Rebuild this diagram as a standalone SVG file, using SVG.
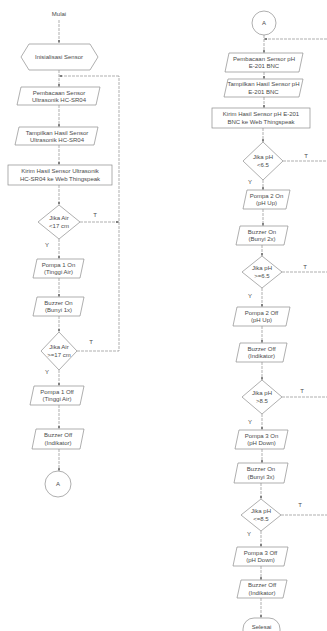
<svg xmlns="http://www.w3.org/2000/svg" width="327" height="631" viewBox="0 0 327 631">
<style>
.s{fill:#fff;stroke:#8c8c8c;stroke-width:0.7}
.c{fill:none;stroke:#8c8c8c;stroke-width:0.7;stroke-dasharray:3 1}
text{font-family:"Liberation Sans",Arial,sans-serif;font-size:6px;fill:#4a4a4a;text-anchor:middle}
.l{font-size:6px}
</style>
<defs>
<marker id="a" viewBox="0 0 6 6" refX="6" refY="3" markerWidth="4" markerHeight="4" orient="auto"><path d="M0,0L6,3L0,6z" fill="#666"/></marker>
</defs>
<rect width="327" height="631" fill="#fff"/>
<g id="connectors">
<path class="c" d="M59,20V43" marker-end="url(#a)"/>
<path class="c" d="M59,70V87" marker-end="url(#a)"/>
<path class="c" d="M119,76H59" marker-end="url(#a)"/>
<path class="c" d="M59,105V127" marker-end="url(#a)"/>
<path class="c" d="M59,145V165" marker-end="url(#a)"/>
<path class="c" d="M59,185V205" marker-end="url(#a)"/>
<path class="c" d="M80,222H119" marker-end="url(#a)"/>
<path class="c" d="M59,239V259" marker-end="url(#a)"/>
<path class="c" d="M59,278V297" marker-end="url(#a)"/>
<path class="c" d="M59,316V332" marker-end="url(#a)"/>
<path class="c" d="M77,351H119V76"/>
<path class="c" d="M59,370V386" marker-end="url(#a)"/>
<path class="c" d="M59,405V429" marker-end="url(#a)"/>
<path class="c" d="M59,449V471" marker-end="url(#a)"/>
<path class="c" d="M264,35V53" marker-end="url(#a)"/>
<path class="c" d="M327,39H264" marker-end="url(#a)"/>
<path class="c" d="M264,72V79" marker-end="url(#a)"/>
<path class="c" d="M264,97V108" marker-end="url(#a)"/>
<path class="c" d="M263,128V142" marker-end="url(#a)"/>
<path class="c" d="M283,161H327"/>
<path class="c" d="M263,180V190" marker-end="url(#a)"/>
<path class="c" d="M263,209V226" marker-end="url(#a)"/>
<path class="c" d="M262,245V256" marker-end="url(#a)"/>
<path class="c" d="M282,272H327"/>
<path class="c" d="M262,288V307" marker-end="url(#a)"/>
<path class="c" d="M262,326V343" marker-end="url(#a)"/>
<path class="c" d="M262,362V380" marker-end="url(#a)"/>
<path class="c" d="M282,397H327"/>
<path class="c" d="M262,414V430" marker-end="url(#a)"/>
<path class="c" d="M262,449V463" marker-end="url(#a)"/>
<path class="c" d="M261,483V499" marker-end="url(#a)"/>
<path class="c" d="M281,515H327"/>
<path class="c" d="M261,531V547" marker-end="url(#a)"/>
<path class="c" d="M261,566V580" marker-end="url(#a)"/>
<path class="c" d="M261,598V618" marker-end="url(#a)"/>
<text x="95" y="217">T</text>
<text x="47" y="247">Y</text>
<text x="91" y="344">T</text>
<text x="47" y="374">Y</text>
<text x="306" y="158">T</text>
<text x="250" y="184">Y</text>
<text x="305" y="269">T</text>
<text x="250" y="298">Y</text>
<text x="302" y="393">T</text>
<text x="250" y="424">Y</text>
<text x="300" y="507">T</text>
<text x="249" y="536">Y</text>
</g>
<g id="mulai"><text x="59" y="16">Mulai</text></g>
<g id="inisialisasi"><polygon class="s" points="29,44 90,44 98,57 90,70 29,70 21,57"/><text x="59" y="59">Inisialisasi Sensor</text></g>
<g id="baca-us"><polygon class="s" points="21,87 100,87 96,105 17,105"/><text x="59" y="94.5">Pembacaan Sensor</text><text x="59" y="102">Ultrasonik HC-SR04</text></g>
<g id="tampil-us"><polygon class="s" points="19,127 98,127 94,145 15,145"/><text x="57" y="134.5">Tampilkan Hasil Sensor</text><text x="57" y="142">Ultrasonik HC-SR04</text></g>
<g id="kirim-us"><rect class="s" x="8" y="165" width="104" height="20"/><text x="60" y="173">Kirim Hasil Sensor Ultrasonik</text><text x="60" y="181">HC-SR04 ke Web Thingspeak</text></g>
<g id="d1"><polygon class="s" points="59,205 80,222 59,239 38,222"/><text x="59" y="220">Jika Air</text><text x="59" y="228">&lt;17 cm</text></g>
<g id="pompa1on"><polygon class="s" points="37,259 84,259 80,278 33,278"/><text x="58.5" y="266.5">Pompa 1 On</text><text x="58.5" y="274">(Tinggi Air)</text></g>
<g id="buzzer1on"><polygon class="s" points="37,297 84,297 80,316 33,316"/><text x="58.5" y="304.5">Buzzer On</text><text x="58.5" y="312">(Bunyi 1x)</text></g>
<g id="d2"><polygon class="s" points="59,332 77,351 59,370 41,351"/><text x="59" y="349">Jika Air</text><text x="59" y="357">&gt;=17 cm</text></g>
<g id="pompa1off"><polygon class="s" points="34,386 84,386 80,405 30,405"/><text x="57" y="393.5">Pompa 1 Off</text><text x="57" y="401">(Tinggi Air)</text></g>
<g id="buzzer1off"><polygon class="s" points="36,429 84,429 80,449 32,449"/><text x="58" y="437">Buzzer Off</text><text x="58" y="445">(Indikator)</text></g>
<g id="conA1"><circle class="s" cx="58" cy="484" r="13"/><text x="58" y="486">A</text></g>
<g id="conA2"><circle class="s" cx="264" cy="23" r="12"/><text x="264" y="25">A</text></g>
<g id="baca-ph"><polygon class="s" points="229,53 303,53 299,72 225,72"/><text x="264" y="60.5">Pembacaan Sensor pH</text><text x="264" y="68">E-201 BNC</text></g>
<g id="tampil-ph"><polygon class="s" points="228,79 303,79 299,97 224,97"/><text x="263.5" y="86">Tampilkan Hasil Sensor pH</text><text x="263.5" y="93.5">E-201 BNC</text></g>
<g id="kirim-ph"><rect class="s" x="212" y="108" width="98" height="20"/><text x="261" y="116">Kirim Hasil Sensor pH E-201</text><text x="261" y="124">BNC ke Web Thingspeak</text></g>
<g id="d3"><polygon class="s" points="263,142 283,161 263,180 243,161"/><text x="263" y="159">Jika pH</text><text x="263" y="167">&lt;6.5</text></g>
<g id="pompa2on"><polygon class="s" points="247,190 290,190 286,209 243,209"/><text x="266.5" y="197.5">Pompa 2 On</text><text x="266.5" y="205">(pH Up)</text></g>
<g id="buzzer2on"><polygon class="s" points="240,226 288,226 284,245 236,245"/><text x="262" y="233.5">Buzzer On</text><text x="262" y="241">(Bunyi 2x)</text></g>
<g id="d4"><polygon class="s" points="262,256 282,272 262,288 242,272"/><text x="262" y="270">Jika pH</text><text x="262" y="278">&gt;=6.5</text></g>
<g id="pompa2off"><polygon class="s" points="237,307 290,307 286,326 233,326"/><text x="261.5" y="314.5">Pompa 2 Off</text><text x="261.5" y="322">(pH Up)</text></g>
<g id="buzzer2off"><polygon class="s" points="240,343 287,343 283,362 236,362"/><text x="261.5" y="350.5">Buzzer Off</text><text x="261.5" y="358">(Indikator)</text></g>
<g id="d5"><polygon class="s" points="262,380 282,397 262,414 242,397"/><text x="262" y="395">Jika pH</text><text x="262" y="403">&gt;8.5</text></g>
<g id="pompa3on"><polygon class="s" points="239,430 288,430 284,449 235,449"/><text x="261.5" y="437.5">Pompa 3 On</text><text x="261.5" y="445">(pH Down)</text></g>
<g id="buzzer3on"><polygon class="s" points="238,463 288,463 284,483 234,483"/><text x="261" y="471">Buzzer On</text><text x="261" y="479">(Bunyi 3x)</text></g>
<g id="d6"><polygon class="s" points="261,499 281,515 261,531 241,515"/><text x="261" y="513">Jika pH</text><text x="261" y="521">&lt;=8.5</text></g>
<g id="pompa3off"><polygon class="s" points="237,547 288,547 284,566 233,566"/><text x="260.5" y="554.5">Pompa 3 Off</text><text x="260.5" y="562">(pH Down)</text></g>
<g id="buzzer3off"><polygon class="s" points="241,580 287,580 283,598 237,598"/><text x="262" y="587">Buzzer Off</text><text x="262" y="595">(Indikator)</text></g>
<g id="selesai"><rect class="s" x="243" y="618" width="37" height="24" rx="11"/><text x="261.5" y="629">Selesai</text></g>
</svg>
